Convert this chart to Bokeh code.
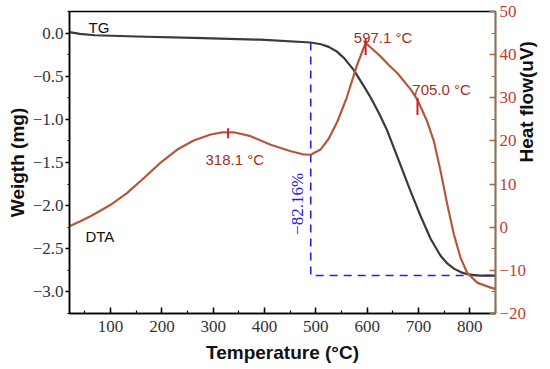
import math
from bokeh.plotting import figure
from bokeh.models import (Range1d, LinearAxis, SingleIntervalTicker, CustomJSTickFormatter,
                          Label, ColumnDataSource)
from bokeh.embed import file_html
from bokeh.resources import INLINE

# ---- data ----
temp_tg = [20, 40, 70, 150, 262, 392, 490, 510, 525, 540, 555, 574, 594, 607, 623, 639,
           652, 665, 685, 704, 724, 743, 756, 769, 782, 795, 820, 850]
weight_tg = [0.01, -0.01, -0.025, -0.04, -0.055, -0.077, -0.109, -0.13, -0.16, -0.21, -0.29,
             -0.43, -0.62, -0.75, -0.93, -1.13, -1.33, -1.53, -1.84, -2.12, -2.39, -2.58,
             -2.67, -2.73, -2.77, -2.795, -2.81, -2.81]

temp_dta = [20, 40, 60, 80, 100, 132, 165, 197, 230, 262, 295, 318, 340, 373, 412, 451,
            475, 490, 509, 525, 542, 560, 580, 597, 610, 626, 642, 659, 685, 698, 717,
            730, 743, 756, 769, 782, 795, 815, 841, 850]
heat_dta = [0.2, 1.3, 2.5, 3.8, 5.2, 7.9, 11.4, 14.9, 18.0, 20.1, 21.5, 22.0, 22.0, 21.1,
            19.1, 17.6, 16.9, 16.8, 18.0, 20.5, 24.5, 30.0, 37.5, 42.7, 41.3, 39.6, 37.6,
            35.7, 31.9, 29.5, 24.5, 19.9, 13.0, 5.3, -1.7, -7.1, -10.6, -12.9, -14.0, -14.3]

peak_temp = [329, 597, 698]
peak_heat = [21.8, 41.9, 28.0]
peak_labels = ["318.1 \u00b0C", "597.1 \u00b0C", "705.0 \u00b0C"]
peak_label_temp = [285, 574, 688]
peak_label_heat = [15.7, 44.0, 31.9]

onset_temp = 490
onset_weight = -0.109
final_weight = -2.81
end_temp = 850
loss_label = "\u221282.16%"

x_title = "Temperature (\u00b0C)"
left_title = "Weigth (mg)"
right_title = "Heat flow(uV)"

x_range = (20, 850)
w_range = (-3.25, 0.25)
h_range = (-20, 50)

# ---- colours ----
TG_COLOR = "#3a3a3a"
DTA_COLOR = "#b5573a"
ANN_COLOR = "#a3301e"
MARK_COLOR = "#c8222a"
BLUE = "#2222dd"
RIGHT_AXIS = "#a86a42"
RIGHT_LABEL = "#c0402e"

TICK_FONT = "Liberation Serif"
TITLE_FONT = "Liberation Sans"

p = figure(width=550, height=369, output_backend="svg", toolbar_location=None,
           x_range=Range1d(*x_range), y_range=Range1d(*w_range),
           min_border_left=69, min_border_right=54, min_border_top=11, min_border_bottom=56)
p.extra_y_ranges = {"heat": Range1d(*h_range)}
p.grid.visible = False
p.outline_line_color = "black"
p.outline_line_width = 1.5
p.background_fill_color = "white"
p.border_fill_color = "white"

def style_axis(ax, label_color, title):
    ax.major_label_text_font = TICK_FONT
    ax.major_label_text_font_size = "17px"
    ax.major_label_text_color = label_color
    ax.axis_line_width = 1.5
    ax.major_tick_line_width = 1.5
    ax.minor_tick_line_width = 1.2
    ax.axis_label = title
    ax.axis_label_text_font = TITLE_FONT
    ax.axis_label_text_font_style = "bold"
    ax.axis_label_text_font_size = "19px"
    ax.axis_label_text_color = "#111111"

# bottom axis
xa = p.xaxis[0]
xa.ticker = SingleIntervalTicker(interval=100, num_minor_ticks=2)
style_axis(xa, "#333333", x_title)
xa.major_label_standoff = 7
xa.axis_label_standoff = 7
xa.major_tick_in = 6
xa.major_tick_out = 0
xa.minor_tick_in = 3
xa.minor_tick_out = 0

# left axis
ya = p.yaxis[0]
ya.ticker = SingleIntervalTicker(interval=0.5, num_minor_ticks=2)
ya.formatter = CustomJSTickFormatter(code="return tick.toFixed(1).replace('-', '\u2212');")
style_axis(ya, "#333333", left_title)
ya.major_label_standoff = 2
ya.axis_label_standoff = 2
ya.major_tick_in = 0
ya.major_tick_out = 4
ya.minor_tick_in = 0
ya.minor_tick_out = 2

# right axis
ra = LinearAxis(y_range_name="heat",
                ticker=SingleIntervalTicker(interval=10, num_minor_ticks=2),
                formatter=CustomJSTickFormatter(code="return tick.toFixed(0).replace('-', '\u2212');"))
style_axis(ra, RIGHT_LABEL, right_title)
ra.axis_label_orientation = math.pi / 2
ra.major_label_standoff = 4
ra.axis_label_standoff = -3
ra.major_tick_in = 6
ra.major_tick_out = 0
ra.minor_tick_in = 4
ra.minor_tick_out = 0
ra.axis_line_color = RIGHT_AXIS
ra.major_tick_line_color = RIGHT_AXIS
ra.minor_tick_line_color = RIGHT_AXIS
p.add_layout(ra, "right")

# blue dashed construction lines
p.line([onset_temp, onset_temp, end_temp], [onset_weight, final_weight, final_weight],
       line_color=BLUE, line_width=1.6, line_dash="8 6")

# curves
p.line(temp_tg, weight_tg, line_color=TG_COLOR, line_width=2.2, line_join="round")
p.line(temp_dta, heat_dta, line_color=DTA_COLOR, line_width=2.2, line_join="round",
       y_range_name="heat")

# peak markers
src = ColumnDataSource(dict(x=peak_temp, y=peak_heat, s=[10, 17, 17]))
p.scatter("x", "y", source=src, marker="dash", size="s", angle=math.pi / 2,
          line_color=MARK_COLOR, line_width=2, y_range_name="heat")

# annotations
for t, h, txt in zip(peak_label_temp, peak_label_heat, peak_labels):
    p.add_layout(Label(x=t, y=h, y_range_name="heat", text=txt, text_font=TITLE_FONT,
                       text_font_size="15px", text_color=ANN_COLOR,
                       text_align="left", text_baseline="alphabetic"))

p.add_layout(Label(x=57, y=0.065, text="TG", text_font=TITLE_FONT, text_font_size="15px",
                   text_color="#111111", text_align="left", text_baseline="alphabetic"))
p.add_layout(Label(x=51, y=-2.36, text="DTA", text_font=TITLE_FONT, text_font_size="15px",
                   text_color="#111111", text_align="left", text_baseline="alphabetic"))
p.add_layout(Label(x=465, y=-1.98, text=loss_label, text_font=TICK_FONT,
                   text_font_size="17px", text_color=BLUE, angle=math.pi / 2,
                   text_align="center", text_baseline="middle"))

open("out.html", "w").write(file_html(p, INLINE))
